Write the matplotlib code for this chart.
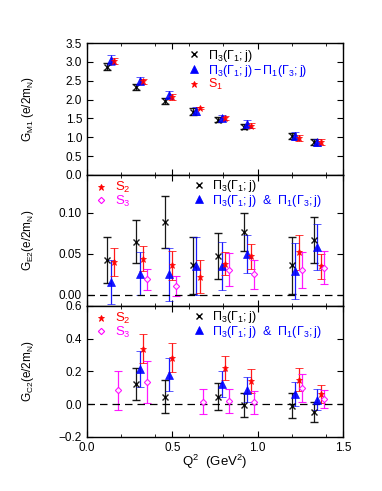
import numpy as np
import matplotlib.pyplot as plt
from matplotlib.lines import Line2D
from matplotlib.ticker import MultipleLocator

plt.rcParams['font.family'] = ['Liberation Sans', 'DejaVu Sans']
plt.rcParams['font.size'] = 8.5
plt.rcParams['mathtext.fontset'] = 'custom'
plt.rcParams['mathtext.rm'] = 'Liberation Sans'
plt.rcParams['mathtext.it'] = 'Liberation Sans'

# Q^2 de cada punto (GeV^2)
q2 = np.array([0.12, 0.29, 0.46, 0.62, 0.77, 0.92, 1.20, 1.33])

# G_M1
gm1_pi3 = [2.87, 2.34, 1.96, 1.68, 1.47, 1.28, 1.03, 0.87]
gm1_pi3_err = [0.09, 0.08, 0.09, 0.10, 0.07, 0.07, 0.08, 0.08]
gm1_tri = [3.05, 2.50, 2.13, 1.70, 1.52, 1.36, 1.04, 0.87]
gm1_tri_err = [0.12, 0.10, 0.10, 0.10, 0.08, 0.09, 0.10, 0.09]
gm1_s1 = [3.02, 2.48, 2.07, 1.77, 1.51, 1.31, 0.98, 0.87]
gm1_s1_err = [0.07, 0.07, 0.07, 0.03, 0.06, 0.06, 0.08, 0.08]

# G_E2
ge2_pi3 = [0.042, 0.065, 0.089, 0.036, 0.048, 0.077, 0.036, 0.067]
ge2_pi3_err = [0.028, 0.026, 0.032, 0.035, 0.028, 0.023, 0.035, 0.028]
ge2_tri = [0.016, 0.026, 0.025, 0.035, 0.035, 0.050, 0.029, 0.058]
ge2_tri_err = [0.027, 0.026, 0.032, 0.035, 0.029, 0.023, 0.034, 0.028]
ge2_s2 = [0.040, 0.044, 0.036, 0.022, 0.038, 0.047, 0.052, 0.035]
ge2_s2_err = [0.017, 0.015, 0.018, 0.020, 0.014, 0.015, 0.021, 0.015]
ge2_s3 = [np.nan, 0.019, 0.011, np.nan, 0.031, 0.025, 0.030, 0.033]
ge2_s3_err = [0, 0.013, 0.0125, 0, 0.020, 0.018, 0.022, 0.020]

# G_C2
gc2_pi3 = [np.nan, 0.124, 0.047, np.nan, 0.047, -0.002, -0.008, -0.049]
gc2_pi3_err = [0, 0.10, 0.10, 0, 0.082, 0.073, 0.076, 0.06]
gc2_tri = [np.nan, 0.216, 0.18, np.nan, 0.124, 0.09, 0.061, 0.027]
gc2_tri_err = [0, 0.11, 0.10, 0, 0.08, 0.074, 0.074, 0.064]
gc2_s2 = [np.nan, 0.34, 0.284, np.nan, 0.222, 0.143, 0.149, 0.063]
gc2_s2_err = [0, 0.088, 0.09, 0, 0.075, 0.072, 0.07, 0.055]
gc2_s3 = [0.084, 0.135, np.nan, 0.016, 0.02, 0.012, 0.10, 0.033]
gc2_s3_err = [0.117, 0.13, 0, 0.077, 0.075, 0.07, 0.085, 0.056]

lbl_pi3 = r'$\Pi_3(\Gamma_1;j)$'
lbl_dif = r'$\Pi_3(\Gamma_1;j)-\Pi_1(\Gamma_3;j)$'
lbl_and = r'$\Pi_3(\Gamma_1;j)$  &  $\Pi_1(\Gamma_3;j)$'

negro = '#000000'
azul = '#0000ff'
rojo = '#ff0000'
magenta = '#ff00ff'

estilos = {
    'pi3': dict(fmt='x', color=negro, ms=5, mew=1.0, dx=0.0),
    'tri': dict(fmt='^', color=azul, ms=5.5, mew=0.5, dx=0.02),
    's': dict(fmt='*', color=rojo, ms=4.5, mew=0.6, dx=0.04),
    's3': dict(fmt='D', color=magenta, ms=3.2, mew=0.8, dx=0.06),
}


def puntos(ax, y, err, clave):
    e = estilos[clave]
    kw = {}
    if clave == 's3':
        kw['mfc'] = 'white'
    ax.errorbar(q2 + e['dx'], y, yerr=err, fmt=e['fmt'], color=e['color'],
                ecolor=e['color'], ms=e['ms'], mew=e['mew'], elinewidth=0.9,
                capsize=3, capthick=0.9, alpha=0.9, **kw)


def handle(clave):
    e = estilos[clave]
    kw = {}
    if clave == 's3':
        kw['mfc'] = 'white'
    return Line2D([], [], ls='none', marker=e['fmt'], color=e['color'],
                  ms=e['ms'], mew=e['mew'], **kw)


fig = plt.figure(figsize=(3.82, 4.91), dpi=100)
ax1 = fig.add_axes([0.2277, 0.6436, 0.670, 0.2688])
ax2 = fig.add_axes([0.2277, 0.3768, 0.670, 0.2668])
ax3 = fig.add_axes([0.2277, 0.1100, 0.670, 0.2668])

# panel superior
puntos(ax1, gm1_pi3, gm1_pi3_err, 'pi3')
puntos(ax1, gm1_tri, gm1_tri_err, 'tri')
puntos(ax1, gm1_s1, gm1_s1_err, 's')
ax1.set_ylim(0, 3.5)
ax1.yaxis.set_major_locator(MultipleLocator(0.5))
ax1.set_ylabel(r'G$_{\rm M1}$ (e/2m$_{\rm N}$)')
ax1.legend([handle('pi3'), handle('tri'), handle('s')],
           [lbl_pi3, lbl_dif, r'S$_1$'], loc='upper left',
           bbox_to_anchor=(0.36, 1.02), frameon=False, labelcolor=[negro, azul, rojo],
           handletextpad=0.5, handlelength=1.2, borderaxespad=0.2,
           labelspacing=-0.1, fontsize=9)

# panel medio
puntos(ax2, ge2_pi3, ge2_pi3_err, 'pi3')
puntos(ax2, ge2_tri, ge2_tri_err, 'tri')
puntos(ax2, ge2_s2, ge2_s2_err, 's')
puntos(ax2, ge2_s3, ge2_s3_err, 's3')
ax2.set_ylim(-0.0134, 0.146)
ax2.set_yticks([0.0, 0.05, 0.10])
ax2.set_yticklabels(['0.00', '0.05', '0.10'])
ax2.set_ylabel(r'G$_{\rm E2}$(e/2m$_{\rm N}$)')

# panel inferior
puntos(ax3, gc2_pi3, gc2_pi3_err, 'pi3')
puntos(ax3, gc2_tri, gc2_tri_err, 'tri')
puntos(ax3, gc2_s2, gc2_s2_err, 's')
puntos(ax3, gc2_s3, gc2_s3_err, 's3')
ax3.set_ylim(-0.2, 0.6)
ax3.yaxis.set_major_locator(MultipleLocator(0.2))
ax3.set_ylabel(r'G$_{\rm C2}$(e/2m$_{\rm N}$)')
ax3.set_xlabel(r'Q$^2$  (GeV$^2$)', labelpad=-1, fontsize=9.5)

for ax in (ax2, ax3):
    ax.axhline(0, color=negro, ls=(0, (6, 4)), lw=0.9)
    l1 = ax.legend([handle('s'), handle('s3')], [r'S$_2$', r'S$_3$'],
                   loc='upper left', bbox_to_anchor=(0.0, 1.02), frameon=False,
                   labelcolor=[rojo, magenta], handletextpad=0.5,
                   handlelength=1.0, borderaxespad=0.2, labelspacing=-0.1,
                   fontsize=9.5)
    ax.add_artist(l1)
    ax.legend([handle('pi3'), handle('tri')], [lbl_pi3, lbl_and],
              loc='upper left', bbox_to_anchor=(0.38, 1.03), frameon=False,
              labelcolor=[negro, azul], handletextpad=0.5, handlelength=1.2,
              borderaxespad=0.15, labelspacing=-0.1, fontsize=9)

for ax in (ax1, ax2, ax3):
    ax.set_xlim(0, 1.5)
    ax.xaxis.set_major_locator(MultipleLocator(0.5))
    ax.xaxis.set_minor_locator(MultipleLocator(0.2))
    ax.tick_params(direction='in', top=True, right=True, which='both',
                   labelsize=8.5)
    ax.tick_params(which='major', length=4)
    ax.tick_params(which='minor', length=2.5)
    ax.yaxis.set_label_coords(-0.2, 0.5)
    for s in ax.spines.values():
        s.set_linewidth(1.0)

ax1.tick_params(labelbottom=False)
ax2.tick_params(labelbottom=False)

fig.savefig('out.png', dpi=100)
